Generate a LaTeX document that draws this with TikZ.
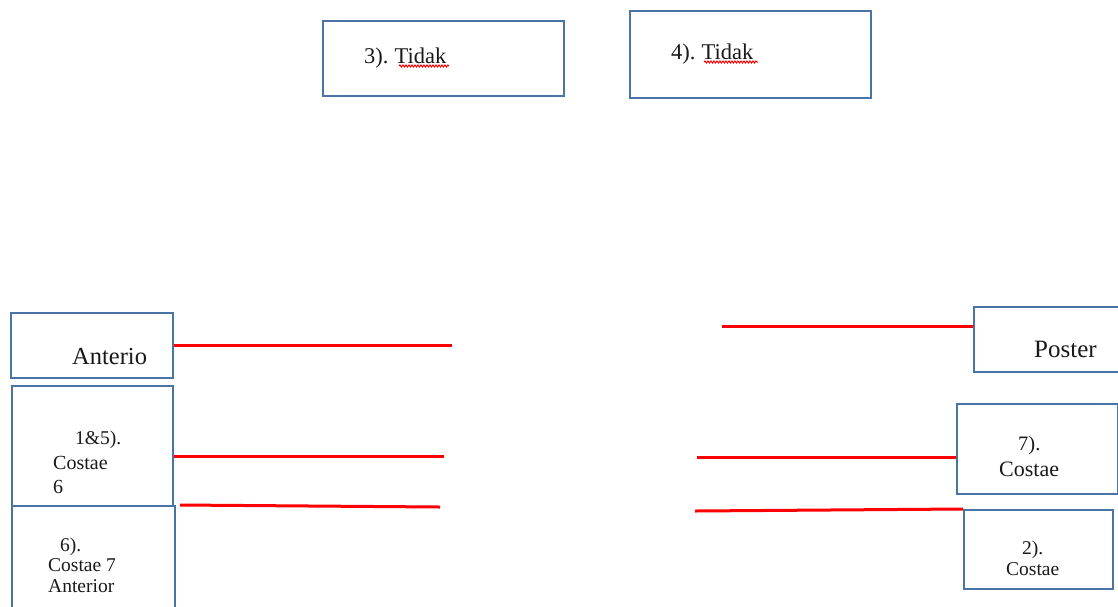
\documentclass[tikz,border=0pt]{standalone}
\usepackage{fontspec}
\setmainfont{Liberation Serif}
\usetikzlibrary{decorations.pathmorphing}
\definecolor{boxblue}{HTML}{4A74A6}
\definecolor{linkred}{HTML}{FF0000}
\tikzset{
  box/.style={draw=boxblue, line width=2.2pt, fill=white, inner sep=0pt, anchor=north west},
  link/.style={draw=linkred, line width=3pt},
  lbl/.style={anchor=base west, inner sep=0pt, text=black!90},
  spell/.style={draw=linkred, line width=1pt, decorate,
    decoration={snake, segment length=3pt, amplitude=1pt}}
}
\newcommand{\fs}[1]{\fontsize{#1}{#1}\selectfont}
\begin{document}
\begin{tikzpicture}[x=1pt, y=-1pt]
  \useasboundingbox (0,0) rectangle (1118,606);
  \clip (0,0) rectangle (1118,606);

  % top boxes
  \node[box, minimum width=241pt, minimum height=75pt] (b3) at (322,20) {};
  \node[box, minimum width=241pt, minimum height=87pt] (b4) at (629,10) {};
  \node[lbl, font=\fs{22.5}] (t3) at (364,63) {3).\kern6pt Tidak};
  \node[lbl, font=\fs{22.5}] (t4) at (671,59) {4).\kern6pt Tidak};
  \draw[spell] (399,66) -- (449,66);
  \draw[spell] (704,62) -- (758,62);

  % left column
  \node[box, minimum width=162pt, minimum height=65pt] (ant) at (10,312) {};
  \node[box, minimum width=161pt, minimum height=120pt] (b15) at (11,385) {};
  \node[box, minimum width=163pt, minimum height=110pt] (b6) at (11,505) {};
  \node[lbl, font=\fs{24.5}] (tant) at (72,364) {Anterio};
  \node[lbl, font=\fs{19.5}] (t15a) at (75,444) {1\&5).};
  \node[lbl, font=\fs{20}] (t15b) at (53,469) {Costae};
  \node[lbl, font=\fs{20}] (t15c) at (53,493) {6};
  \node[lbl, font=\fs{19.5}] (t6a) at (60,551) {6).};
  \node[lbl, font=\fs{19.5}] (t6b) at (48,571) {Costae 7};
  \node[lbl, font=\fs{19.5}] (t6c) at (48,592) {Anterior};

  % right column
  \node[box, minimum width=160pt, minimum height=65pt] (pos) at (973,306) {};
  \node[box, minimum width=161pt, minimum height=90pt] (b7) at (956,403) {};
  \node[box, minimum width=149pt, minimum height=79pt] (b2) at (963,509) {};
  \node[lbl, font=\fs{25}] (tpos) at (1034,357) {Poster};
  \node[lbl, font=\fs{20.5}] (t7a) at (1018,450) {7).};
  \node[lbl, font=\fs{22}] (t7b) at (999,476) {Costae};
  \node[lbl, font=\fs{19.5}] (t2a) at (1022,554) {2).};
  \node[lbl, font=\fs{19.5}] (t2b) at (1006,575) {Costae};

  % free ends of the leader lines
  \coordinate (e1) at (452,345);
  \coordinate (e2) at (444,456);
  \coordinate (s3) at (180,505);
  \coordinate (e3) at (440,507);
  \coordinate (e4) at (722,326);
  \coordinate (e5) at (697,457);
  \coordinate (e6) at (695,511);

  \draw[link] (ant.east |- e1) -- (e1);
  \draw[link] (b15.east |- e2) -- (e2);
  \draw[link] (s3) -- (e3);
  \draw[link] (e4) -- (pos.west |- e4);
  \draw[link] (e5) -- (b7.west |- e5);
  \draw[link] (e6) -- (b2.north west);
\end{tikzpicture}
\end{document}
